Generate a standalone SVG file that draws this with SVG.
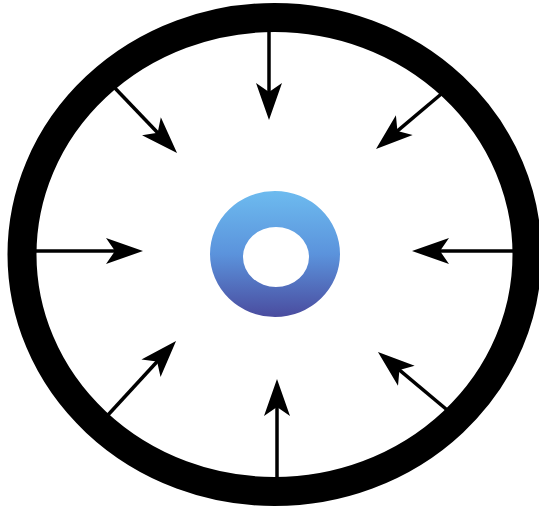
<svg xmlns="http://www.w3.org/2000/svg" width="539" height="513" viewBox="0 0 539 513">
  <defs>
    <style>
      .arrow { stroke: #000; stroke-width: 3.5; fill: none; marker-end: url(#head); }
      .ring { fill: none; stroke: #000; stroke-width: 29; }
    </style>
    <marker id="head" markerUnits="userSpaceOnUse" markerWidth="40" markerHeight="30" refX="0" refY="0" orient="auto" overflow="visible">
      <path d="M20,0 L-17,-13 L-8,0 L-17,13 Z" fill="#000"/>
    </marker>
    <linearGradient id="donutGrad" x1="0" y1="0" x2="0" y2="1">
      <stop offset="0" stop-color="#6dbbef"/>
      <stop offset="0.5" stop-color="#5b93dc"/>
      <stop offset="1" stop-color="#4a4c9f"/>
    </linearGradient>
  </defs>
  <rect width="539" height="513" fill="#fff"/>
  <g id="connectors">
    <line class="arrow" x1="269" y1="30" x2="269" y2="100"/>
    <line class="arrow" x1="277" y1="481" x2="277" y2="399"/>
    <line class="arrow" x1="32" y1="251" x2="123" y2="251"/>
    <line class="arrow" x1="517" y1="251" x2="432" y2="251"/>
    <line class="arrow" x1="112" y1="85" x2="163.2" y2="138.5"/>
    <line class="arrow" x1="443" y1="92.5" x2="391.3" y2="136.1"/>
    <line class="arrow" x1="107.5" y1="415.5" x2="162.5" y2="355.7"/>
    <line class="arrow" x1="449" y1="411.5" x2="393.3" y2="364.9"/>
  </g>
  <g id="ring">
    <ellipse class="ring" cx="274.5" cy="254.5" rx="252.5" ry="237"/>
  </g>
  <g id="donut">
    <path fill="url(#donutGrad)" fill-rule="evenodd" d="M210,254 a65,63 0 1,0 130,0 a65,63 0 1,0 -130,0 Z M243,257 a33,30 0 1,0 66,0 a33,30 0 1,0 -66,0 Z"/>
  </g>
</svg>
